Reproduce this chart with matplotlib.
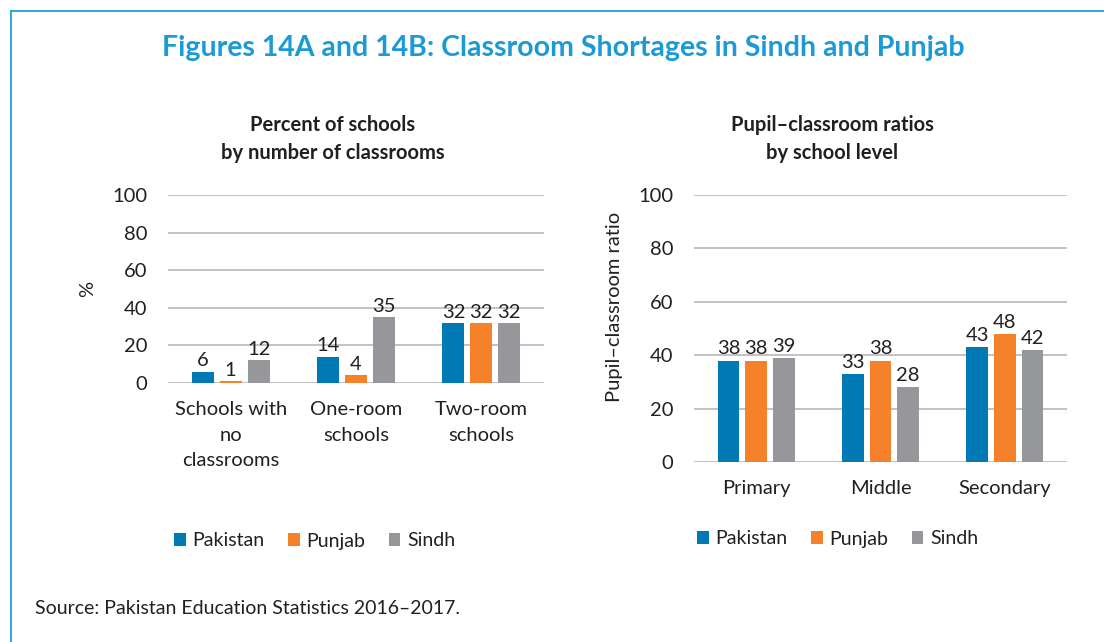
import matplotlib
matplotlib.use("Agg")
import matplotlib.pyplot as plt
from matplotlib.patches import Patch
import numpy as np

plt.rcParams['font.family'] = ['Lato', 'DejaVu Sans']

# Data
series = ["Pakistan", "Punjab", "Sindh"]
colors = ["#0079b5", "#f5822a", "#96979a"]

cats_a = ["Schools with\nno\nclassrooms", "One-room\nschools", "Two-room\nschools"]
vals_a = {
    "Pakistan": [6, 14, 32],
    "Punjab": [1, 4, 32],
    "Sindh": [12, 35, 32],
}

cats_b = ["Primary", "Middle", "Secondary"]
vals_b = {
    "Pakistan": [38, 33, 43],
    "Punjab": [38, 38, 48],
    "Sindh": [39, 28, 42],
}

yticks = [0, 20, 40, 60, 80, 100]

W, H = 1104, 642
fig = plt.figure(figsize=(W / 100, H / 100), dpi=100)
fig.patch.set_facecolor("white")

text_col = "#231f20"
grid_col = "#bdbdbd"
FS = 14.5

def px(x0, y0, x1, y1):
    return [x0 / W, 1 - y1 / H, (x1 - x0) / W, (y1 - y0) / H]

def draw(ax, cats, vals, ylabel, xpad):
    x = np.arange(len(cats))
    bw = 0.175
    off = 0.223
    for i, s in enumerate(series):
        bars = ax.bar(x + (i - 1) * off, vals[s], width=bw, color=colors[i], zorder=3)
        for b, v in zip(bars, vals[s]):
            ax.text(b.get_x() + b.get_width() / 2, v + 1.2, str(v), ha="center", va="bottom",
                    fontsize=FS, color=text_col, zorder=4)
    ax.set_xlim(-0.5, len(cats) - 0.5)
    ax.set_ylim(0, 100)
    ax.set_yticks(yticks)
    ax.set_yticklabels([str(t) for t in yticks], fontsize=FS, color=text_col)
    ax.set_xticks(x)
    ax.set_xticklabels(cats, fontsize=FS, color=text_col, linespacing=1.62, va="top")
    ax.tick_params(axis="y", length=0, pad=15)
    ax.tick_params(axis="x", length=0, pad=xpad)
    ax.grid(axis="y", color=grid_col, linewidth=1.3, zorder=0)
    for sp in ax.spines.values():
        sp.set_visible(False)
    ax.set_ylabel(ylabel, fontsize=FS, color=text_col)

ax1 = fig.add_axes(px(168, 195, 544, 383))
draw(ax1, cats_a, vals_a, "%", 13)
ax1.yaxis.set_label_coords(-0.19, 0.5)

ax2 = fig.add_axes(px(694, 195, 1067, 462))
draw(ax2, cats_b, vals_b, "Pupil\u2013classroom ratio", 13)
ax2.yaxis.set_label_coords(-0.19, 0.58)

# Titles
fig.text(563 / W, 1 - 48 / H, "Figures 14A and 14B: Classroom Shortages in Sindh and Punjab",
         ha="center", va="center", fontsize=20.5, fontweight="bold", color="#1b9ad6")
fig.text(333 / W, 1 - 139 / H, "Percent of schools\nby number of classrooms",
         ha="center", va="center", fontsize=14.5, fontweight="bold", color=text_col, linespacing=1.45)
fig.text(832 / W, 1 - 139 / H, "Pupil\u2013classroom ratios\nby school level",
         ha="center", va="center", fontsize=14.5, fontweight="bold", color=text_col, linespacing=1.45)

# Legends
handles = [Patch(facecolor=c, edgecolor="none") for c in colors]
for xl, yl in [(174, 541), (697, 539)]:
    fig.legend(handles, series, loc="center left", bbox_to_anchor=(xl / W, 1 - yl / H),
               ncol=3, frameon=False, fontsize=14, handlelength=0.6, handleheight=0.6,
               handletextpad=0.35, columnspacing=1.2, labelcolor=text_col, borderaxespad=0,
               borderpad=0)

fig.text(35 / W, 1 - 609 / H, "Source: Pakistan Education Statistics 2016\u20132017.",
         ha="left", va="center", fontsize=14, color=text_col)

# Border (left and top)
bc = "#1ba0db"
fig.add_artist(plt.Line2D([11 / W, 11 / W], [0, 1 - 11 / H], color=bc, linewidth=1.3))
fig.add_artist(plt.Line2D([11 / W, 1], [1 - 11 / H, 1 - 11 / H], color=bc, linewidth=1.3))

fig.savefig("out.png", dpi=100, facecolor="white")
